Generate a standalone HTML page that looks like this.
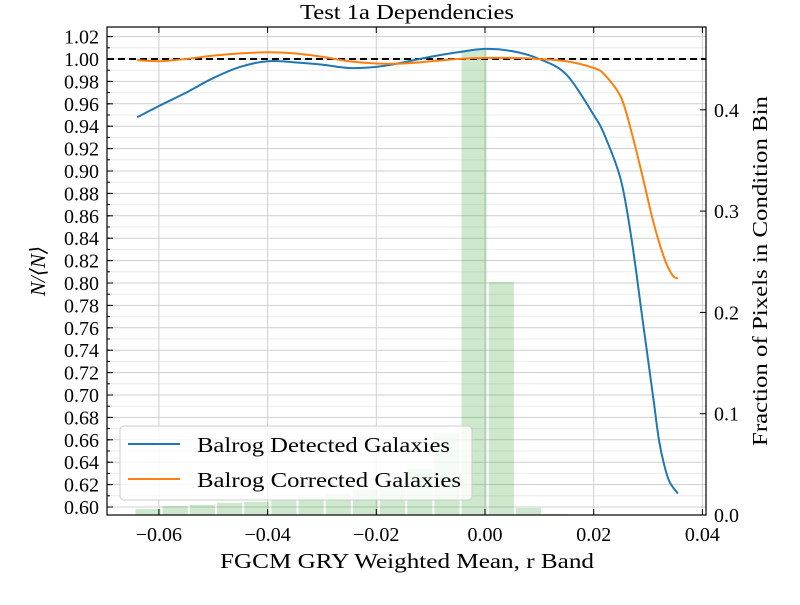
<!DOCTYPE html>
<html><head><meta charset="utf-8"><style>
body{margin:0;background:#fff;}
svg text{font-family:"Liberation Serif","DejaVu Serif",serif;fill:#000;}
</style></head><body>
<svg id="chart" width="800" height="600" viewBox="0 0 800 600" xmlns="http://www.w3.org/2000/svg">
<rect width="800" height="600" fill="#fff"/>
<g id="grid"></g>
<g id="bars"></g>
<g id="lines"></g>
<g id="axes"></g>
<text x="407" y="19" font-size="21" text-anchor="middle" textLength="214" lengthAdjust="spacingAndGlyphs">Test 1a Dependencies</text>
<text x="407" y="568" font-size="21" text-anchor="middle" textLength="374" lengthAdjust="spacingAndGlyphs">FGCM GRY Weighted Mean, r Band</text>
<text transform="translate(45,271) rotate(-90)" font-size="21" text-anchor="middle" font-style="italic">N/⟨N⟩</text>
<text transform="translate(767,271) rotate(-90)" font-size="21" text-anchor="middle" textLength="350" lengthAdjust="spacingAndGlyphs">Fraction of Pixels in Condition Bin</text>
<g>
<rect x="120" y="426" width="352" height="74" rx="4" fill="#fff" fill-opacity="0.8" stroke="#ccc"/>
<line x1="128" y1="444" x2="180" y2="444" stroke="#1f77b4" stroke-width="2"/>
<text x="197" y="452" font-size="21" textLength="253" lengthAdjust="spacingAndGlyphs">Balrog Detected Galaxies</text>
<line x1="128" y1="479" x2="180" y2="479" stroke="#ff7f0e" stroke-width="2"/>
<text x="197" y="487" font-size="21" textLength="264" lengthAdjust="spacingAndGlyphs">Balrog Corrected Galaxies</text>
</g>
</svg>
<script>
const binLefts=[-0.0645,-0.0595,-0.0545,-0.0495,-0.0445,-0.0395,-0.0345,-0.0295,-0.0245,-0.0195,-0.0145,-0.0095,-0.0045,0.0005,0.0055,0.0105];
const binFrac=[0.006,0.009,0.010,0.012,0.013,0.015,0.017,0.021,0.025,0.029,0.046,0.081,0.459,0.230,0.007,0.001];
const binWidth=0.005;
const xs=[-0.064,-0.06,-0.055,-0.05,-0.045,-0.04,-0.035,-0.03,-0.025,-0.02,-0.015,-0.01,-0.005,0,0.005,0.01,0.015,0.02,0.022,0.025,0.027,0.029,0.031,0.032,0.033,0.034,0.0355];
const detected=[0.948,0.958,0.970,0.983,0.993,0.998,0.997,0.995,0.992,0.993,0.997,1.002,1.006,1.009,1.007,1.000,0.986,0.950,0.932,0.892,0.838,0.767,0.696,0.660,0.637,0.622,0.612];
const xsC=[-0.064,-0.06,-0.055,-0.05,-0.045,-0.04,-0.035,-0.03,-0.025,-0.02,-0.015,-0.01,-0.005,0,0.005,0.01,0.015,0.02,0.022,0.025,0.027,0.029,0.031,0.033,0.0345,0.0355];
const corrected=[0.999,0.998,1.000,1.003,1.005,1.006,1.005,1.002,0.998,0.996,0.996,0.998,1.000,1.001,1.001,1.000,0.998,0.992,0.986,0.966,0.934,0.895,0.854,0.822,0.807,0.804];
const xTicks=[-0.06,-0.04,-0.02,0.00,0.02,0.04];
const xTickLabels=["−0.06","−0.04","−0.02","0.00","0.02","0.04"];
const yTicks=[];for(let i=0;i<=21;i++)yTicks.push(+(0.60+0.02*i).toFixed(2));
const y2Ticks=[0,0.1,0.2,0.3,0.4];
const y2TickLabels=["0.0","0.1","0.2","0.3","0.4"];

const L=107,R=706,T=27,B=515;
const X=v=>485+v*5435;
const Y=v=>59-(v-1)*1120;
const Y2=v=>515-v*1013;
const NS="http://www.w3.org/2000/svg";
function mk(tag,attrs,parent){const e=document.createElementNS(NS,tag);for(const k in attrs)e.setAttribute(k,attrs[k]);parent.appendChild(e);return e;}
function smooth(pts){let d='M'+pts[0][0]+','+pts[0][1];
 for(let i=0;i<pts.length-1;i++){const p0=pts[Math.max(i-1,0)],p1=pts[i],p2=pts[i+1],p3=pts[Math.min(i+2,pts.length-1)];
  const c1=[p1[0]+(p2[0]-p0[0])/6,p1[1]+(p2[1]-p0[1])/6],c2=[p2[0]-(p3[0]-p1[0])/6,p2[1]-(p3[1]-p1[1])/6];
  d+=' C'+c1[0]+','+c1[1]+' '+c2[0]+','+c2[1]+' '+p2[0]+','+p2[1];}
 return d;}
const grid=document.getElementById('grid'),bars=document.getElementById('bars'),lines=document.getElementById('lines'),axes=document.getElementById('axes');
for(let i=0;i<44;i++){const v=0.59+0.01*i;const y=Y(v);if(y<T||y>B)continue;
 const major=(i%2)==1;
 const ln=mk('line',{x1:L,x2:R,y1:y,y2:y,stroke:major?'#cfcfcf':'#ebebeb','stroke-width':1},grid);
 }
xTicks.forEach(v=>{const x=X(v);if(x>R-2)return;const ln=mk('line',{x1:x,x2:x,y1:T,y2:B,stroke:'#cfcfcf','stroke-width':1},grid);
 });
binLefts.forEach((l,i)=>{const x1=X(l)+1,x2=X(l+binWidth)-1;const r=mk('rect',{x:x1,y:Y2(binFrac[i]),width:x2-x1,height:B-Y2(binFrac[i]),fill:'#2ca02c','fill-opacity':0.24},bars);
 });
const ref=mk('line',{x1:L,x2:R,y1:Y(1),y2:Y(1),stroke:'#000','stroke-width':2,'stroke-dasharray':'7,4'},lines);

const pd=mk('path',{d:smooth(xs.map((x,i)=>[X(x),Y(detected[i])])),fill:'none',stroke:'#1f77b4','stroke-width':2},lines);

const pc=mk('path',{d:smooth(xsC.map((x,i)=>[X(x),Y(corrected[i])])),fill:'none',stroke:'#ff7f0e','stroke-width':2},lines);

const fr=mk('rect',{x:L,y:T,width:R-L,height:B-T,fill:'none',stroke:'#000','stroke-width':1.2},axes);

xTicks.forEach((v,i)=>{const x=X(v);
 mk('line',{x1:x,x2:x,y1:B,y2:B-6,stroke:'#000'},axes);mk('line',{x1:x,x2:x,y1:T,y2:T+6,stroke:'#000'},axes);
 const t=mk('text',{x:x,y:B+26,'font-size':20,'text-anchor':'middle'},axes);t.textContent=xTickLabels[i];
 });
yTicks.forEach(v=>{const y=Y(v);mk('line',{x1:L,x2:L+6,y1:y,y2:y,stroke:'#000'},axes);
 const t=mk('text',{x:L-8,y:y+7,'font-size':20,'text-anchor':'end'},axes);t.textContent=v.toFixed(2);
 });
for(let i=0;i<44;i++){const y=Y(0.59+0.01*i);if(y<T||y>B)continue;mk('line',{x1:L,x2:L+3,y1:y,y2:y,stroke:'#000'},axes);}
y2Ticks.forEach((v,i)=>{const y=Y2(v);mk('line',{x1:R,x2:R-6,y1:y,y2:y,stroke:'#000'},axes);
 const t=mk('text',{x:R+8,y:y+7,'font-size':20},axes);t.textContent=y2TickLabels[i];
 });
</script>
</body></html>
